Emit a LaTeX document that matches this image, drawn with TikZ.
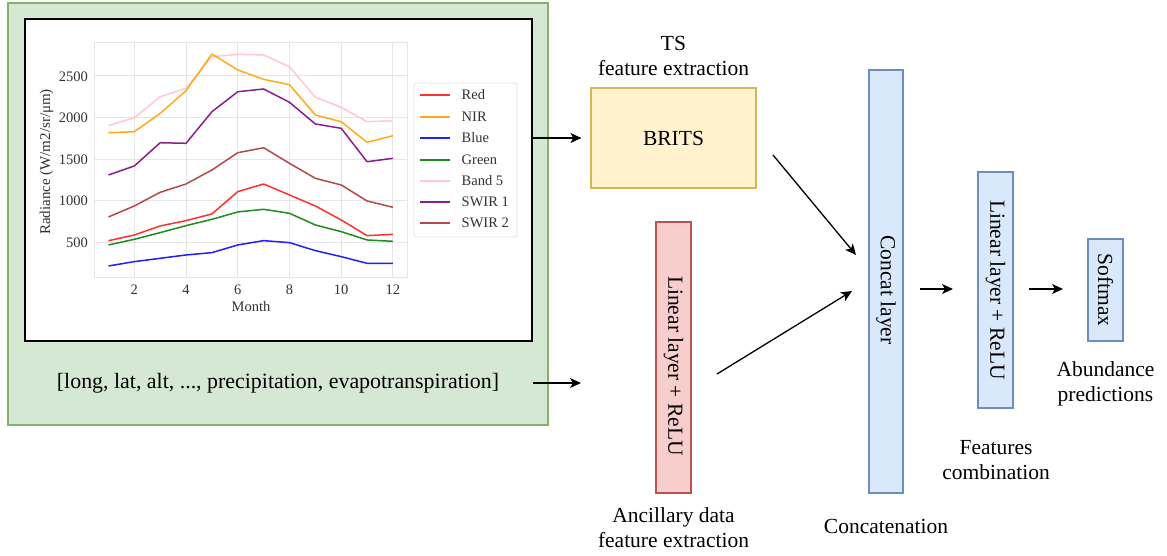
\documentclass[tikz,border=0pt]{standalone}
\usepackage{fontspec}
\setmainfont{Liberation Serif}
\usetikzlibrary{arrows.meta}
\definecolor{gfill}{HTML}{D5E8D4}
\definecolor{gdraw}{HTML}{82B366}
\definecolor{yfill}{HTML}{FFF2CC}
\definecolor{ydraw}{HTML}{D6B656}
\definecolor{rfill}{HTML}{F8CECC}
\definecolor{rdraw}{HTML}{B85450}
\definecolor{bfill}{HTML}{DAE8FC}
\definecolor{bdraw}{HTML}{6C8EBF}
\definecolor{cRed}{HTML}{FF3030}
\definecolor{cNIR}{HTML}{FFAA1A}
\definecolor{cBlue}{HTML}{2020FF}
\definecolor{cGreen}{HTML}{1E8C1E}
\definecolor{cBand}{HTML}{FFC8D2}
\definecolor{cSW1}{HTML}{8A1F8A}
\definecolor{cSW2}{HTML}{B24A48}
\definecolor{gridc}{HTML}{E6E6E6}
\definecolor{tickc}{HTML}{333333}
\begin{document}
\begin{tikzpicture}[x=1pt,y=-1pt,
  lbl/.style={font=\fontsize{21.5}{25}\selectfont, align=center, inner sep=0pt},
  small/.style={font=\fontsize{14.5}{16}\selectfont, text=tickc, inner sep=0pt},
  boxy/.style={draw=ydraw, fill=yfill, line width=1.2pt, inner sep=0pt},
  boxr/.style={draw=rdraw, fill=rfill, line width=1.2pt, inner sep=0pt},
  boxb/.style={draw=bdraw, fill=bfill, line width=1.2pt, inner sep=0pt},
  arr/.style={-{Stealth[length=11pt,width=10pt,inset=3pt]}, line width=1.3pt},
  pl/.style={line width=1.5pt, line join=round},
  legl/.style={line width=1.8pt}
]
\useasboundingbox (0,0) rectangle (1167,556);

% green input panel
\node[draw=gdraw, fill=gfill, line width=1.3pt, minimum width=540pt, minimum height=422pt, inner sep=0pt] (panel) at (278,214) {};
\node[draw=black, fill=white, line width=2pt, minimum width=507pt, minimum height=322pt, inner sep=0pt] (chart) at (278.5,180) {};

% plot frame and grid
\draw[gridc, line width=1pt] (94.6,43) rectangle (407.1,277);
\begin{scope}[shift={(82.6,284.3)}, x=25.86pt, y=0.08333pt]
  \foreach \m in {2,4,...,12} \draw[gridc, line width=1pt] (\m,88) -- (\m,2896);
  \foreach \v in {500,1000,...,2500} \draw[gridc, line width=1pt] (0.464,\v) -- (12.55,\v);
  \draw[pl, cBand] plot coordinates {(1,1903) (2,1999) (3,2251) (4,2352) (5,2731) (6,2760) (7,2752) (8,2611) (9,2244) (10,2124) (11,1951) (12,1963)};
  \draw[pl, cNIR] plot coordinates {(1,1819) (2,1831) (3,2052) (4,2323) (5,2764) (6,2572) (7,2460) (8,2395) (9,2032) (10,1951) (11,1704) (12,1783)};
  \draw[pl, cSW1] plot coordinates {(1,1312) (2,1420) (3,1699) (4,1692) (5,2071) (6,2311) (7,2344) (8,2184) (9,1924) (10,1872) (11,1471) (12,1512)};
  \draw[pl, cSW2] plot coordinates {(1,808) (2,940) (3,1104) (4,1204) (5,1372) (6,1579) (7,1639) (8,1452) (9,1272) (10,1192) (11,1000) (12,924)};
  \draw[pl, cRed] plot coordinates {(1,523) (2,592) (3,700) (4,764) (5,844) (6,1112) (7,1204) (8,1072) (9,940) (10,772) (11,584) (12,600)};
  \draw[pl, cGreen] plot coordinates {(1,472) (2,540) (3,620) (4,704) (5,780) (6,868) (7,900) (8,852) (9,712) (10,632) (11,532) (12,516)};
  \draw[pl, cBlue] plot coordinates {(1,220) (2,272) (3,312) (4,352) (5,380) (6,472) (7,524) (8,500) (9,404) (10,332) (11,252) (12,252)};
\end{scope}

% tick labels
\foreach \v/\yy in {2500/76.5,2000/118,1500/159.5,1000/201,500/242.7}
  \node[small, anchor=east] (yt\v) at (88,\yy) {\v};
\foreach \m/\xx in {2/134.3,4/186,6/237.8,8/289.5,10/341.2,12/392.9}
  \node[small] (xt\m) at (\xx,289.5) {\m};
\node[small] (xlab) at (251,307) {Month};
\node[small, font=\fontsize{15}{17}\selectfont, rotate=90] (ylab) at (46.6,162) {Radiance (W/m2/sr/μm)};

% legend
\node[draw=black!12, fill=white, rounded corners=3pt, line width=0.8pt, minimum width=103pt, minimum height=154pt, inner sep=0pt] (legend) at (465.5,160) {};
\foreach \c/\t/\yy in {cRed/Red/95, cNIR/NIR/117, cBlue/Blue/138, cGreen/Green/160, cBand/Band 5/181, cSW1/SWIR 1/202, cSW2/SWIR 2/223}{
  \draw[legl, \c] (420,\yy) -- (450,\yy);
  \node[small, anchor=west] at (461.5,\yy) {\t};
}

% ancillary vector text
\node[lbl, font=\fontsize{21.9}{25}\selectfont] (anc) at (278,383) {[long, lat, alt, ..., precipitation, evapotranspiration]};

% model blocks
\node[boxy, minimum width=165pt, minimum height=100pt] (brits) at (673.5,138) {};
\node[lbl] (britstxt) at (673.5,138) {BRITS};
\node[lbl] (tslab) at (673.5,56) {TS\\feature extraction};

\node[boxr, minimum width=35pt, minimum height=271pt] (lin1) at (673.5,357.5) {};
\node[lbl, rotate=-90] (lin1txt) at (673.5,366) {Linear layer + ReLU};
\node[lbl] (anclab) at (673.5,527.5) {Ancillary data\\feature extraction};

\node[boxb, minimum width=34pt, minimum height=423pt] (concat) at (886,281.5) {};
\node[lbl, rotate=-90] (concattxt) at (886,290) {Concat layer};
\node[lbl] (concatlab) at (886,526) {Concatenation};

\node[boxb, minimum width=35pt, minimum height=236pt] (lin2) at (995.5,290) {};
\node[lbl, rotate=-90] (lin2txt) at (995.5,290) {Linear layer + ReLU};
\node[lbl] (comblab) at (996,460) {Features\\combination};

\node[boxb, minimum width=35pt, minimum height=102pt] (soft) at (1105.5,290) {};
\node[lbl, rotate=-90] (softtxt) at (1105.5,290) {Softmax};
\node[lbl] (ablab) at (1105.5,384) {Abundance\\predictions};

% connectors
\coordinate (a2end) at (581,383);
\coordinate (b1) at (773,155);
\coordinate (b2) at (856,255);
\coordinate (c1) at (717,374);
\coordinate (c2) at (852,291);
\coordinate (d1) at (920,289);
\coordinate (d2) at (953,289);
\coordinate (e1) at (1029,289);
\coordinate (e2) at (1063,289);
\draw[arr] (chart.east |- brits.west) -- ([xshift=-9pt]brits.west);
\draw[arr] (chart.east |- anc) -- (a2end);
\draw[arr] (b1) -- (b2);
\draw[arr] (c1) -- (c2);
\draw[arr] (d1) -- (d2);
\draw[arr] (e1) -- (e2);
\end{tikzpicture}
\end{document}
